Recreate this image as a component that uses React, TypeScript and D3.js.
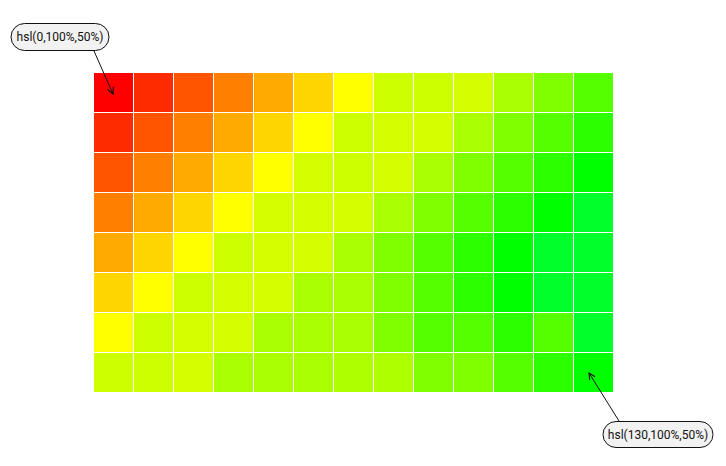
import React from 'react';
import * as d3 from 'd3';

// hue (deg) per cell, row by row
const row0 = [0, 10, 20, 30, 40, 50, 60, 72, 72, 70, 80, 90, 100];
const row1 = [10, 20, 30, 40, 50, 60, 72, 70, 70, 80, 90, 100, 110];
const row2 = [20, 30, 40, 50, 60, 70, 72, 70, 80, 90, 100, 110, 120];
const row3 = [30, 40, 50, 60, 70, 70, 70, 80, 90, 100, 110, 120, 130];
const row4 = [40, 50, 60, 72, 70, 70, 80, 90, 100, 110, 120, 130, 130];
const row5 = [50, 60, 72, 70, 70, 80, 80, 90, 100, 110, 120, 130, 130];
const row6 = [60, 72, 70, 70, 80, 80, 80, 90, 100, 100, 110, 100, 130];
const row7 = [72, 72, 70, 80, 80, 80, 79, 79, 90, 90, 100, 110, 120];
const hueRows = [row0, row1, row2, row3, row4, row5, row6, row7];

const firstLabel = 'hsl(0,100%,50%)';
const lastLabel = 'hsl(130,100%,50%)';

const width = 726;
const height = 466;
const margin = { top: 73, left: 94 };
const cols = row0.length;
const rows = hueRows.length;

export default function App() {
  const x = d3.scaleBand<number>()
    .domain(d3.range(cols))
    .range([margin.left, margin.left + cols * 40]);
  const y = d3.scaleBand<number>()
    .domain(d3.range(rows))
    .range([margin.top, margin.top + rows * 40]);

  const cells = hueRows.flatMap((r, i) => r.map((h, j) => ({ i, j, h })));

  // annotation anchors: centre of the first and last cell
  const a0 = { x: x(0)! + 20, y: y(0)! + 20 };
  const a1 = { x: x(cols - 1)! + 15, y: y(rows - 1)! + 20 };

  return (
    <svg width={width} height={height} style={{ position: 'absolute', left: 0, top: 0 }}
      fontFamily="Roboto, sans-serif">
      <defs>
        <marker id="arr" viewBox="0 0 10 10" refX="9" refY="5" markerWidth="8" markerHeight="8"
          orient="auto-start-reverse">
          <path d="M1,1 L9,5 L1,9" fill="none" stroke="#111" strokeWidth="1.4" />
        </marker>
      </defs>
      {cells.map(c => (
        <rect key={`${c.i}-${c.j}`} x={x(c.j)} y={y(c.i)}
          width={x.bandwidth() - 1} height={y.bandwidth() - 1}
          fill={d3.hsl(c.h, 1, 0.5).toString()} />
      ))}

      <line x1={94} y1={51} x2={a0.x - 1} y2={a0.y + 1} stroke="#111" strokeWidth={1}
        markerEnd="url(#arr)" />
      <rect x={11} y={23.5} width={98} height={27} rx={13.5} fill="#f2f2f2" stroke="#111" />
      <text x={60} y={41} textAnchor="middle" fontSize={12} fill="#111">{firstLabel}</text>

      <line x1={619} y1={421} x2={a1.x} y2={a1.y} stroke="#111" strokeWidth={1}
        markerEnd="url(#arr)" />
      <rect x={603} y={421.5} width={110} height={26} rx={13} fill="#f2f2f2" stroke="#111" />
      <text x={658} y={439} textAnchor="middle" fontSize={12} fill="#111">{lastLabel}</text>
    </svg>
  );
}
